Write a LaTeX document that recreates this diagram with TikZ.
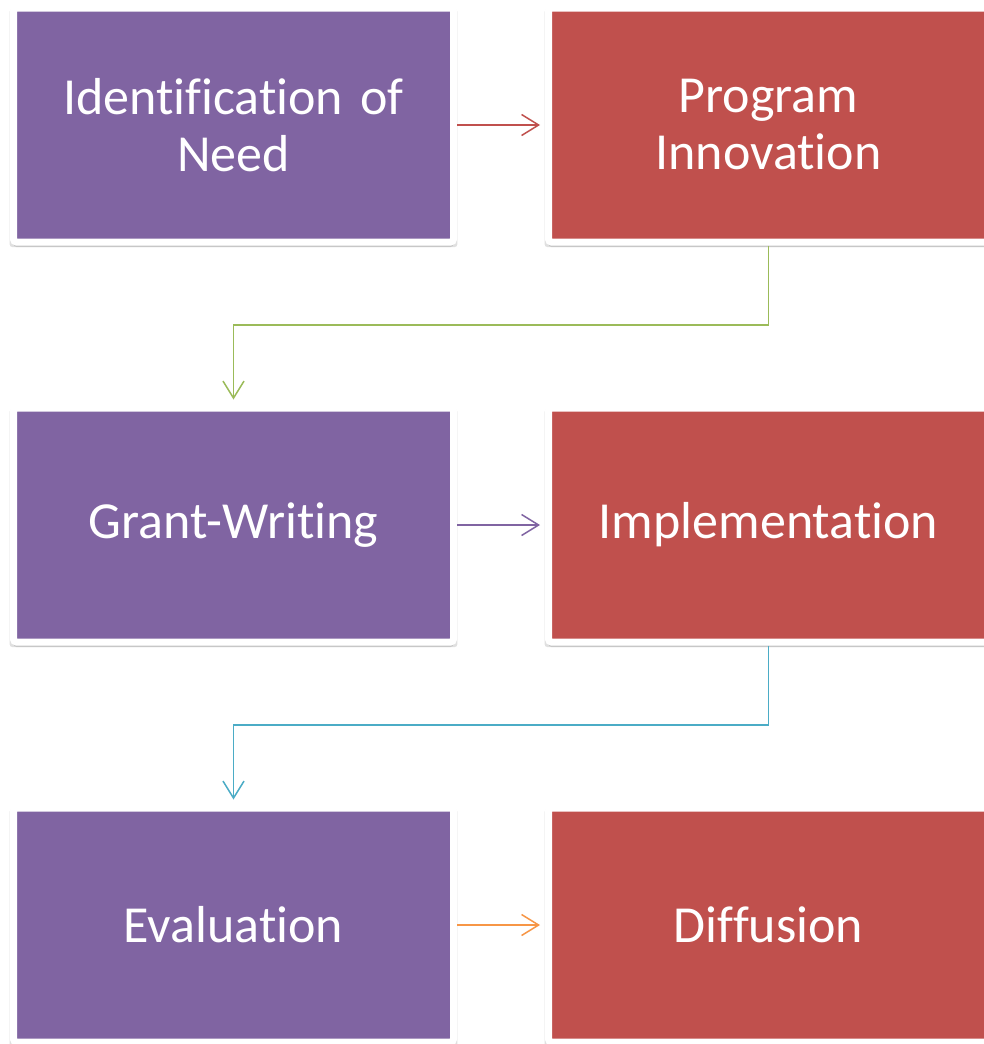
\documentclass[tikz,border=0pt]{standalone}
\usepackage{fontspec}
\setmainfont{Carlito}[Ligatures={NoCommon}]
\usepackage{tikz}
\usetikzlibrary{arrows.meta,positioning,shadows,calc}

\definecolor{offpurple}{HTML}{8064A2}
\definecolor{offred}{HTML}{C0504D}
\definecolor{offgreen}{HTML}{9BBB59}
\definecolor{offteal}{HTML}{4BACC6}
\definecolor{offorange}{HTML}{F79646}

\begin{document}
\begin{tikzpicture}[x=1pt, y=-1pt, >={Straight Barb[length=17pt,width=21pt]}, node distance=159pt and 88pt,
    stage/.style={rectangle, draw=white, line width=7pt, rounded corners=3pt, inner sep=0pt,
        minimum width=440pt, minimum height=234pt, text width=420pt, align=center, text=white,
        font=\fontsize{52}{57}\selectfont,
        general shadow={shadow scale=1.018, shadow yshift=-3pt, fill=black, opacity=.12},
        drop shadow={shadow xshift=0pt, shadow yshift=-5pt, opacity=.25}},
    conn/.style={->, line width=1.5pt, shorten >=5pt}]
    \useasboundingbox [fill=white] (0,0) rectangle (983,1044);

    % Nodes {need, prog, grant, impl, eval, diff}
    \node [stage, fill=offpurple]   (need)  at (233.5,125)  {Identification of\\Need};
    \node [stage, fill=offred]      (prog)  [right=of need] {Program\\Innovation};
    \node [stage, fill=offpurple]   (grant) [below=of need] {Grant-Writing};
    \node [stage, fill=offred]      (impl)  [right=of grant] {Implementation};
    \node [stage, fill=offpurple]   (eval)  [below=of grant] {Evaluation};
    \node [stage, fill=offred]      (diff)  [right=of eval] {Diffusion};

    % Bends
    \coordinate (b1) at ($(prog.south)!.5!(grant.north)$);
    \coordinate (b2) at ($(impl.south)!.5!(eval.north)$);

    % Paths
    \path [conn, offred]    (need)  edge (prog);
    \path [conn, offpurple] (grant) edge (impl);
    \path [conn, offorange] (eval)  edge (diff);
    \draw [conn, offgreen]  (prog.south) |- (b1) -| (grant.north);
    \draw [conn, offteal]   (impl.south) |- (b2) -| (eval.north);
\end{tikzpicture}
\end{document}
